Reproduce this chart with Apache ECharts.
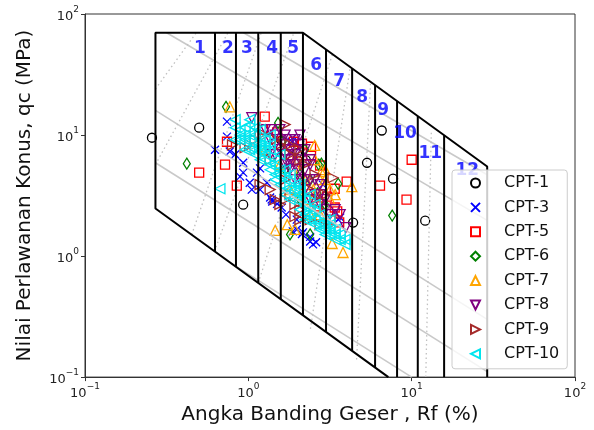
<!DOCTYPE html>
<html><head><meta charset="utf-8">
<script src="https://cdn.jsdelivr.net/npm/echarts@6/dist/echarts.min.js"></script>
<style>html,body{margin:0;padding:0;background:#fff}#c{width:594px;height:430px}</style>
</head><body><div id="c"></div><script>
// ---- data (Rf %, qc MPa) ----
const seriesNames = ['CPT-1','CPT-3','CPT-5','CPT-6','CPT-7','CPT-8','CPT-9','CPT-10'];
const cpt1 = [[0.257,9.5],[0.50,11.5],[0.93,2.66],[6.56,10.9],[5.33,5.9],[7.69,4.36],[4.38,1.89],[12.1,1.96],[1.99,7.1],[2.25,6.2],[1.6,9.0]];
const cpt3 = [[0.74,12.9],[0.625,7.57],[0.77,7.3],[0.83,6.9],[0.89,4.53],[1.02,4.04],[1.13,4.89],[1.18,3.54],[1.39,2.93],[1.60,2.52],[1.87,9.5],[1.98,2.0],[1.98,1.66],[2.16,1.57],[2.49,1.25],[2.39,1.44],[2.86,3.89],[3.65,2.08],[0.93,5.9],[1.18,5.3],[1.30,4.04],[0.74,9.7],[1.40,2.82],[1.87,1.60],[2.13,1.52],[2.39,1.32],[3.55,2.0],[1.85,8.8],[0.93,4.89],[1.05,3.54],[1.36,3.05],[2.6,1.3],[1.7,2.2],[1.5,2.7]];
const cpt5 = [[1.26,14.2],[0.74,8.8],[0.72,5.7],[0.50,4.89],[0.85,3.82],[2.13,8.5],[2.42,6.75],[2.42,8.0],[4.0,4.12],[6.4,3.82],[10.0,6.25],[9.3,2.93],[3.38,2.52],[3.03,3.1],[1.23,11.1],[2.65,2.57],[3.38,3.6],[3.5,2.34],[2.75,5.6],[1.9,8.8],[2.0,6.0],[3.2,2.0],[3.6,1.9],[1.5,10.5]];
const cpt6 = [[0.42,5.8],[0.73,17.1],[1.52,12.6],[2.8,5.8],[3.55,3.96],[7.6,2.16],[2.65,3.3],[1.6,8.8],[2.07,4.71],[1.80,1.51],[2.39,1.51],[2.7,5.7],[2.22,7.57],[2.95,2.67],[2.07,2.93],[1.68,5.17],[2.39,4.28]];
const cpt7 = [[0.77,17.1],[2.55,8.2],[1.46,1.63],[1.73,1.82],[3.26,1.27],[3.8,1.07],[4.3,3.75],[2.8,4.98],[2.5,3.54],[2.25,4.28],[1.80,3.54],[2.07,5.17],[1.56,5.69],[2.22,2.93],[2.75,2.20],[2.95,4.28],[2.56,6.25],[1.27,7.57],[3.16,2.93],[2.39,2.20],[3.40,3.22],[1.93,1.66],[1.93,6.25],[2.22,3.89],[2.75,4.28],[2.56,3.22],[2.07,3.22],[3.16,3.54],[1.68,7.57],[2.95,5.17]];
const cpt8 = [[1.05,13.9],[3.95,1.72],[1.36,9.15],[1.46,10.0],[1.56,9.15],[1.68,8.32],[1.80,9.15],[1.93,7.57],[2.07,8.32],[1.68,6.89],[1.80,6.25],[1.56,7.57],[1.46,6.89],[1.93,5.69],[2.07,6.25],[2.22,5.17],[1.80,5.17],[1.68,5.69],[2.07,4.28],[2.39,4.28],[2.22,3.54],[2.56,3.22],[2.75,2.67],[2.95,2.42],[3.16,2.20],[2.39,2.93],[1.93,4.28],[1.36,6.89],[1.27,11.1],[1.56,11.1],[2.07,10.0],[1.80,7.57],[3.65,2.20],[2.75,3.89],[2.39,6.25],[1.68,10.0],[1.93,9.15],[2.22,7.57],[2.39,5.69],[2.07,5.17],[2.56,4.28],[2.75,3.22],[1.93,6.89],[1.68,6.25],[1.46,8.32],[1.36,11.1],[2.22,4.28],[1.80,5.69],[2.95,2.93],[3.40,2.42]];
const cpt9 = [[3.3,4.44],[1.93,2.12],[0.8,8.3],[0.955,7.85],[1.10,9.15],[1.27,10.0],[1.36,6.25],[1.68,4.28],[1.80,3.22],[2.07,2.42],[2.39,2.00],[2.75,2.42],[3.16,1.82],[1.18,3.89],[1.46,2.93],[1.93,2.67],[1.56,8.32],[1.80,6.89],[2.22,5.69],[2.56,4.71],[2.95,3.22],[1.68,12.2],[2.07,7.57],[1.56,2.67],[1.02,8.32],[1.18,10.0],[1.46,9.15],[1.80,8.32],[2.07,6.25],[2.39,3.54],[2.56,2.93],[1.68,2.93],[2.07,2.00],[2.75,1.82],[1.36,3.54]];
const cpt10 = [[0.83,11.5],[0.889,11.1],[0.955,11.5],[1.02,12.2],[1.10,11.5],[0.889,9.15],[0.955,10.0],[1.02,9.15],[1.10,10.0],[1.18,11.1],[1.27,9.15],[1.02,7.57],[1.10,8.32],[1.18,7.57],[1.27,6.89],[1.36,7.57],[0.955,7.57],[1.18,6.25],[1.36,5.69],[1.46,6.25],[1.56,5.17],[1.46,4.71],[1.68,4.28],[1.80,4.71],[1.80,3.54],[1.93,3.89],[2.07,3.22],[1.93,2.93],[2.22,2.93],[2.39,2.42],[2.22,2.20],[2.56,2.67],[2.56,2.00],[2.75,2.20],[2.75,1.82],[2.95,2.00],[2.95,1.66],[3.16,1.82],[3.16,1.51],[3.40,1.66],[3.65,1.37],[3.91,1.25],[3.40,1.37],[1.68,3.22],[1.56,3.89],[2.07,2.42],[2.39,3.22],[1.27,8.32],[1.36,10.0],[0.67,3.6],[0.83,9.15],[1.56,6.89],
  [0.889,10.0],[1.02,10.0],[1.18,9.15],[0.955,9.15],[1.10,7.57],[1.27,7.57],[1.36,8.32],[1.18,8.32],[1.46,5.69],[1.56,4.71],[1.68,5.17],[1.80,4.28],[1.93,3.54],[2.07,3.89],[2.07,2.93],[2.22,2.67],[2.39,2.20],[2.56,2.42],[2.75,1.66],[2.95,1.82],[3.16,1.66],[3.40,1.51],[3.65,1.51],[3.91,1.37],[2.39,2.00],[2.22,2.00],[1.80,2.93],[1.68,3.54],[1.46,4.28],[1.36,5.17],[1.27,6.25],[1.10,6.89],[0.83,13.4],[1.02,13.4],[2.56,1.82],[2.95,1.51],[2.07,3.54],[3.16,2.00]];
const seriesData = [cpt1,cpt3,cpt5,cpt6,cpt7,cpt8,cpt9,cpt10];
const seriesColors = ['#000000','#0000ff','#ff0000','#008000','#ffa500','#800080','#a52a2a','#00e5ee'];

// chart frame (classification zones)
const topEdge = [[0.27,70],[2.16,70],[29,5.5]];
const bottomEdge = [[0.27,2.47],[7.2,0.1],[29,0.1]];
const outline = [[7.2,0.1],[0.27,2.47],[0.27,70],[2.16,70],[29,5.5],[29,0.1]];
const zoneRf = [0.625,0.84,1.15,1.58,2.16,2.99,4.32,5.97,8.14,10.9,15.8];
const zoneLabels = ['1','2','3','4','5','6','7','8','9','10','11','12'];
const zoneLabelPos = [[0.506,51.4],[0.75,51.4],[0.98,51.4],[1.40,51.4],[1.88,51.4],[2.60,37.2],[3.60,27.5],[4.97,20.3],[6.68,15.9],[9.1,10.3],[13.0,7.0],[21.9,5.1]];
const grayLines = [
  [[0.316,70],[29,1.97]],
  [[0.935,70],[29,4.7]],
  [[0.27,16.0],[29,0.3]],
  [[0.27,5.9],[29,0.111]],
  [[0.79,0.865],[10,0.1]]
];
const dottedLines = [
  [[0.27,24],[0.48,70]],
  [[0.27,5.7],[0.75,70]],
  [[0.45,1.5],[1.2,70]],
  [[0.62,1.09],[1.9,70]],
  [[1.15,0.6],[3.3,48]],
  [[2.4,0.25],[4.2,36]],
  [[4.6,0.14],[5.6,27]],
  [[12.2,0.1],[13.2,11]]
];

function interpEdge(edge, rf){
  const lx = Math.log10(rf);
  for (let i=0;i<edge.length-1;i++){
    const a=edge[i], b=edge[i+1];
    const la=Math.log10(a[0]), lb=Math.log10(b[0]);
    if (lx>=la-1e-9 && lx<=lb+1e-9){
      const t=(lx-la)/(lb-la);
      return Math.pow(10, Math.log10(a[1])+t*(Math.log10(b[1])-Math.log10(a[1])));
    }
  }
  return edge[edge.length-1][1];
}

const FONT = 'DejaVu Sans';
function supFmt(v){
  const e = Math.round(Math.log10(v));
  return '{b|10}{s|' + (e<0?'\u2212':'') + Math.abs(e) + '}';
}
const richLbl = {
  b:{fontSize:13, fontFamily:FONT, color:'#222', padding:[5,0,0,0]},
  s:{fontSize:9, fontFamily:FONT, color:'#222', verticalAlign:'top'}
};

const symbols = [
  'circle',
  'path://M0,0L10,10M0,10L10,0',
  'rect',
  'diamond',
  'path://M5,0L10,10L0,10Z',
  'path://M0,0L10,0L5,10Z',
  'path://M0,0L10,5L0,10Z',
  'path://M10,0L0,5L10,10Z'
];
const sizes = [9, 8, 9, [7,11], 10, 10, 10, 10];

const series = [];
seriesNames.forEach((n,i)=>{
  series.push({
    name:n, type:'scatter', data:seriesData[i], symbol:symbols[i], symbolSize:sizes[i], z:2,
    itemStyle:{color:'rgba(0,0,0,0)', borderColor:seriesColors[i], borderWidth:1.3, opacity:1},
    emphasis:{disabled:true}
  });
});
function lineSeries(data, style, z){
  series.push({type:'line', data:data, showSymbol:false, symbol:'none', z:z, silent:true,
    lineStyle:style, emphasis:{disabled:true}, animation:false});
}
grayLines.forEach(l=>lineSeries(l,{color:'#c9c9c9', width:1.6},3));
dottedLines.forEach(l=>lineSeries(l,{color:'#c0c0c0', width:1.3, type:[1.5,3]},3));
zoneRf.forEach(rf=>lineSeries([[rf, interpEdge(bottomEdge, rf)],[rf, interpEdge(topEdge, rf)]],{color:'#000', width:2},3));
lineSeries(outline,{color:'#000', width:2},3);
series.push({type:'scatter', symbolSize:0, z:3, silent:true,
  data: zoneLabelPos.map((p,i)=>({value:p, name:zoneLabels[i]})),
  label:{show:true, position:'inside', formatter:'{b}', color:'#0000ff', fontWeight:'bold', fontSize:17, fontFamily:FONT}
});

const chart = echarts.init(document.getElementById('c'), null, {renderer:'canvas'});
chart.setOption({
  animation:false,
  backgroundColor:'#fff',
  grid:{left:85, top:14, right:19, bottom:52, show:true, borderColor:'#333', borderWidth:1, backgroundColor:'rgba(0,0,0,0)'},
  xAxis:{type:'log', logBase:10, min:0.1, max:100,
    name:'Angka Banding Geser , Rf (%)', nameLocation:'middle', nameGap:26,
    nameTextStyle:{fontSize:20, fontFamily:FONT, color:'#111'},
    axisLine:{show:true, lineStyle:{color:'#333', width:1}},
    axisTick:{show:true, length:4, lineStyle:{color:'#333'}},
    minorTick:{show:false}, splitLine:{show:false},
    axisLabel:{formatter:supFmt, rich:richLbl, margin:5}
  },
  yAxis:{type:'log', logBase:10, min:0.1, max:100,
    name:'Nilai Perlawanan Konus, qc (MPa)', nameLocation:'middle', nameGap:50,
    nameTextStyle:{fontSize:20, fontFamily:FONT, color:'#111'},
    axisLine:{show:true, lineStyle:{color:'#333', width:1}},
    axisTick:{show:true, length:4, lineStyle:{color:'#333'}},
    minorTick:{show:false}, splitLine:{show:false},
    axisLabel:{formatter:supFmt, rich:richLbl, margin:6}
  },
  legend:{
    z:10,
    data: seriesNames.map((n,i)=>({name:n, icon:symbols[i]})),
    orient:'vertical', left:452, top:170,
    itemWidth:9, itemHeight:9, itemGap:8.4,
    padding:[5,8,7,18],
    backgroundColor:'rgba(255,255,255,0.8)', borderColor:'#cccccc', borderWidth:1, borderRadius:3,
    textStyle:{fontSize:16, fontFamily:FONT, color:'#111', padding:[0,0,0,19]},
    selectedMode:false
  },
  series: series
});
</script></body></html>
